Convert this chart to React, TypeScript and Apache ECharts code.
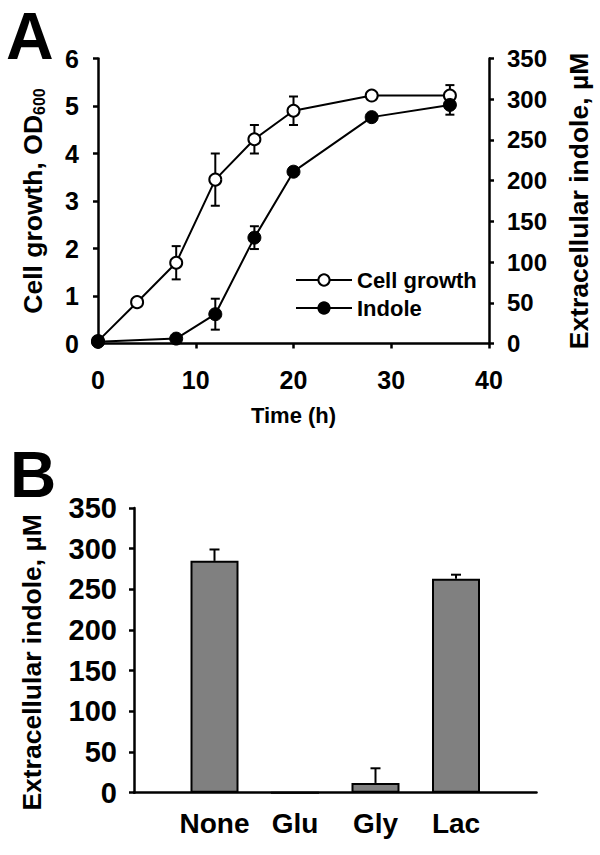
import React, { useEffect, useRef } from "react";
import * as echarts from "echarts";

// Panel A: time course
const cellGrowth: [number, number][] = [
  [0, 0.05], [4, 0.87], [8, 1.7], [12, 3.45], [16, 4.3], [20, 4.9], [28, 5.22], [36, 5.22],
];
const cellGrowthErr: [number, number][] = [
  [8, 0.35], [12, 0.55], [16, 0.3], [20, 0.3], [36, 0.22],
];
const indole: [number, number][] = [
  [0, 2], [8, 6], [12, 36], [16, 130], [20, 211], [28, 278], [36, 293],
];
const indoleErr: [number, number][] = [
  [12, 19], [16, 14], [28, 4], [36, 12],
];

// Panel B: carbon sources
const carbonSources = ["None", "Glu", "Gly", "Lac"];
const indoleByCarbon = [285, 0, 12, 263];
const indoleByCarbonErr = [14, 0, 18, 5];

const FONT = "Liberation Sans, Arial, Helvetica, sans-serif";

export default function App() {
  const ref = useRef<HTMLDivElement>(null);
  useEffect(() => {
    if (!ref.current) return;
    const chart = echarts.init(ref.current, undefined, { renderer: "svg" });

    const errA = (pairs: [number, number][], series: [number, number][]) =>
      pairs.map(([x, e]) => {
        const y = series.find((p) => p[0] === x)![1];
        return [x, y - e, y + e];
      });

    const bCats = ["", ...carbonSources, ""];
    const bBars: (number | string)[] = ["-", ...indoleByCarbon, "-"];
    const bErr = indoleByCarbon
      .map((v, i) => [i + 1, v, v + indoleByCarbonErr[i]])
      .filter((d) => d[2] > d[1]);

    const axisLine = { lineStyle: { color: "#000", width: 2.5 } };
    const axisTick = { length: 5, lineStyle: { color: "#000", width: 2.5 } };
    const lab = (size: number, margin: number) => ({
      color: "#000", fontWeight: "bold", fontSize: size, fontFamily: FONT, margin,
    });

    const errRender = (cap: number, both: boolean) => (params: any, api: any) => {
      const x = api.value(0);
      const lo = api.coord([x, api.value(1)]);
      const hi = api.coord([x, api.value(2)]);
      const st = { stroke: "#000", lineWidth: 2 };
      const children: any[] = [
        { type: "line", shape: { x1: lo[0], y1: lo[1], x2: hi[0], y2: hi[1] }, style: st },
        { type: "line", shape: { x1: hi[0] - cap, y1: hi[1], x2: hi[0] + cap, y2: hi[1] }, style: st },
      ];
      if (both)
        children.push({ type: "line", shape: { x1: lo[0] - cap, y1: lo[1], x2: lo[0] + cap, y2: lo[1] }, style: st });
      return { type: "group", children };
    };

    chart.setOption({
      animation: false,
      backgroundColor: "#fff",
      textStyle: { fontFamily: FONT },
      graphic: [
        { type: "text", left: 6, top: 3, style: { text: "A", font: `bold 66px ${FONT}`, fill: "#000" } },
        { type: "text", left: 10, top: 443, style: { text: "B", font: `bold 64px ${FONT}`, fill: "#000" } },
      ],
      legend: {
        left: 290,
        top: 264,
        orient: "vertical",
        itemWidth: 56,
        itemHeight: 14,
        itemGap: 6,
        data: ["Cell growth", "Indole"],
        textStyle: { color: "#000", fontWeight: "bold", fontSize: 22, fontFamily: FONT },
      },
      grid: [
        { left: 98, top: 58.5, width: 396, height: 285 },
        { left: 134, top: 508, width: 402.5, height: 284.7 },
      ],
      xAxis: [
        {
          gridIndex: 0, type: "value", min: 0, max: 40, interval: 10,
          axisLine, axisTick: { ...axisTick, length: 5 }, splitLine: { show: false },
          axisLabel: lab(25, 24),
          name: "Time (h)", nameLocation: "middle", nameGap: 61,
          nameTextStyle: { color: "#000", fontWeight: "bold", fontSize: 22, fontFamily: FONT },
        },
        {
          gridIndex: 1, type: "category", data: bCats, boundaryGap: false,
          axisLine, axisTick: { show: false },
          axisLabel: { ...lab(28, 17), interval: 0 },
        },
      ],
      yAxis: [
        {
          gridIndex: 0, type: "value", min: 0, max: 6, interval: 1, position: "left",
          axisLine: { show: true, ...axisLine }, axisTick: { show: true, ...axisTick }, splitLine: { show: false },
          axisLabel: lab(25, 19),
          name: "{a|Cell growth, OD}{s|600}", nameLocation: "middle", nameGap: 51, nameRotate: 90,
          nameTextStyle: {
            rich: {
              a: { color: "#000", fontWeight: "bold", fontSize: 26.5, fontFamily: FONT, lineHeight: 28 },
              s: { color: "#000", fontWeight: "bold", fontSize: 16, fontFamily: FONT, verticalAlign: "bottom", lineHeight: 28 },
            },
          },
        },
        {
          gridIndex: 0, type: "value", min: 0, max: 350, interval: 50, position: "right",
          axisLine: { show: true, ...axisLine }, axisTick: { show: true, ...axisTick }, splitLine: { show: false },
          axisLabel: lab(24, 18),
          name: "Extracellular indole, µM", nameLocation: "middle", nameGap: 76, nameRotate: 90,
          nameTextStyle: { color: "#000", fontWeight: "bold", fontSize: 26.5, fontFamily: FONT },
        },
        {
          gridIndex: 1, type: "value", min: 0, max: 350, interval: 50,
          axisLine: { show: true, ...axisLine }, axisTick: { show: true, ...axisTick }, splitLine: { show: false },
          axisLabel: lab(29, 17),
          name: "Extracellular indole, µM", nameLocation: "middle", nameGap: 89, nameRotate: 90,
          nameTextStyle: {
            color: "#000", fontWeight: "bold", fontSize: 26.5, fontFamily: FONT,
            padding: [0, 24, 0, 0],
          },
        },
      ],
      series: [
        {
          type: "custom", xAxisIndex: 0, yAxisIndex: 0, z: 1,
          renderItem: errRender(4.5, true), data: errA(cellGrowthErr, cellGrowth),
        },
        {
          type: "custom", xAxisIndex: 0, yAxisIndex: 1, z: 1,
          renderItem: errRender(4.5, true), data: errA(indoleErr, indole),
        },
        {
          name: "Cell growth", type: "line", xAxisIndex: 0, yAxisIndex: 0, z: 5,
          data: cellGrowth, symbol: "circle", symbolSize: 12,
          lineStyle: { color: "#000", width: 2 },
          itemStyle: { color: "#fff", borderColor: "#000", borderWidth: 2 },
        },
        {
          name: "Indole", type: "line", xAxisIndex: 0, yAxisIndex: 1, z: 6,
          data: indole, symbol: "circle", symbolSize: 13,
          lineStyle: { color: "#000", width: 2 },
          itemStyle: { color: "#000", borderColor: "#000", borderWidth: 1 },
        },
        {
          type: "custom", xAxisIndex: 1, yAxisIndex: 2, z: 1,
          renderItem: errRender(5, false), data: bErr,
        },
        {
          name: "B", type: "bar", xAxisIndex: 1, yAxisIndex: 2, z: 3,
          data: bBars, barWidth: 48,
          itemStyle: { color: "#808080", borderColor: "#000", borderWidth: 2 },
        },
      ],
    });
    return () => chart.dispose();
  }, []);
  return <div ref={ref} style={{ position: "absolute", left: 0, top: 0, width: 600, height: 855 }} />;
}
